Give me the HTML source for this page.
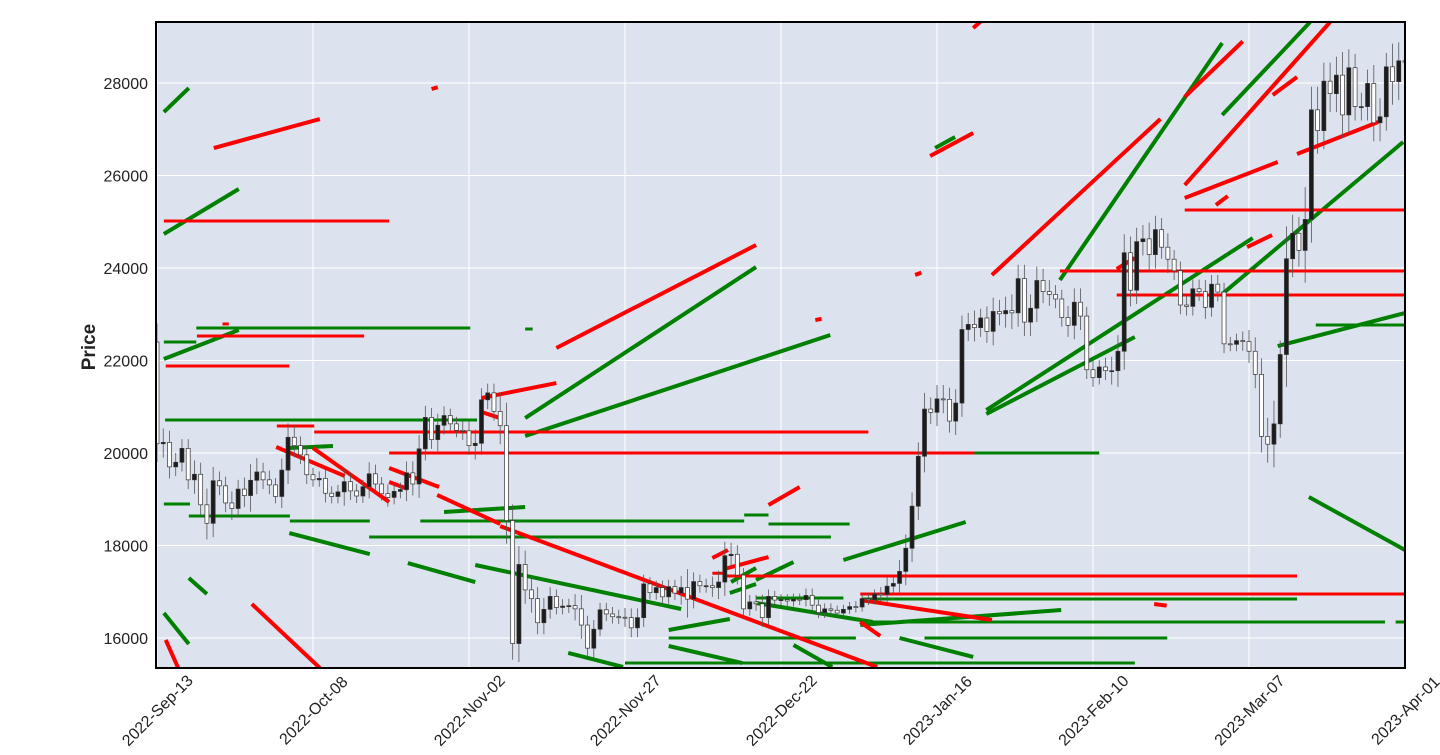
<!DOCTYPE html>
<html><head><meta charset="utf-8"><style>
body{margin:0;background:#fff;width:1440px;height:750px;overflow:hidden;font-family:"Liberation Sans",sans-serif}
</style></head><body>
<svg id="chart" width="1440" height="750" xmlns="http://www.w3.org/2000/svg">
<defs><clipPath id="clip"><rect x="156" y="22" width="1249" height="646"/></clipPath></defs>
<rect x="156" y="22" width="1249" height="646" fill="#dde3ee"/>
<g id="grid"></g>
<g id="lines" clip-path="url(#clip)"></g>
<g id="candles" clip-path="url(#clip)"></g>
<rect x="156" y="22" width="1249" height="646" fill="none" stroke="#000" stroke-width="2"/>
<g id="axes"></g>
<text x="95" y="347" transform="rotate(-90 95 347)" text-anchor="middle" font-size="19" font-weight="bold" fill="#222">Price</text>
</svg>
<script>
const closes=[20200,20230,19700,19800,20100,19420,19540,18880,18480,19400,19290,18920,18800,19220,19080,19410,19590,19420,
19310,19060,19630,20340,20160,19960,19530,19420,19450,19130,19060,19160,19380,19180,19070,19270,19550,19330,19120,19040,19170,19210,19570,19330,20090,20770,20290,20600,20810,20630,20490,
20480,20160,20210,21150,21300,20900,20590,18540,15880,17590,17040,16850,16330,16620,16900,16660,16690,16700,16630,16280,15780,16190,16610,16520,16460,16450,16440,16220,16440,17170,
16980,17090,16890,17110,16970,17090,16840,17220,17130,17130,17090,17210,17780,17810,17360,16630,16780,16740,16440,16900,16820,16830,16800,16840,16830,16920,16710,16550,16630,16600,16540,
16620,16680,16670,16850,16830,16950,16940,17120,17180,17440,17940,18850,19930,20950,20880,21170,21160,20690,21080,22670,22780,22710,22920,22630,23060,23010,23080,23030,23770,22830,23130,
23730,23490,23430,23330,22930,22760,23260,22960,21800,21630,21860,21780,21780,22200,24330,23520,24570,24630,24290,24830,24450,24190,23940,23200,23170,23550,23490,23150,
23650,23480,22360,22350,22430,22410,22200,21700,20360,20190,20630,22130,24200,24750,24380,25050,27420,26970,28040,27770,28170,27310,28330,27490,27490,27990,27140,27270,28350,28030,28480,28450];
const firstOpen=22400;
const wicks=[400,300,250,200,200,200,300,250,350,300,200,200,250,200,250,350,300,200,
200,150,250,300,250,200,200,150,150,200,150,150,300,200,150,150,250,200,150,200,150,150,250,250,300,250,200,250,200,150,150,
200,200,300,250,200,200,400,500,350,400,300,300,250,250,200,150,150,150,250,300,200,200,150,150,150,150,200,200,200,
200,150,150,150,150,150,250,400,200,150,150,200,250,300,250,200,150,150,150,200,150,120,120,120,120,120,150,150,120,120,120,
100,100,100,120,100,120,100,150,200,150,250,300,300,300,350,250,300,300,250,300,300,250,300,200,250,300,250,300,350,300,300,
300,300,250,250,200,200,250,300,300,200,200,150,200,300,350,400,350,300,300,350,300,250,300,200,200,200,200,200,
250,200,200,200,150,150,200,250,300,350,400,500,300,700,400,350,700,500,500,400,400,400,500,400,300,300,300,400,400,300,500,400];
// trend lines: [startDay, startPrice, endDay, endPrice]
const redLines=[[1.4,15957,3.4,15351],[1.1,25016,37.2,25016],[1.4,21880,21.2,21880],[6.4,22530,33.2,22530],[10.5,22790,11.5,22790],
[9.1,26594,26.1,27221],[44,27870,45,27910],[15.2,16735,26.1,15351],[19.2,20583,25.2,20583],[25.2,20454,114,20454],[37.2,20000,131,20000],
[19.1,20130,30.1,19502],[25,20108,37.2,18940],[37.2,19675,45.2,19265],[37.2,19373,40.2,19221],[44.9,19092,55,18465],[55,18420,115.4,15373],
[52,21189,64,21513],[64,22270,96,24497],[52,20886,55,20756],[89,17730,91.5,17903],[90.9,17492,98,17751],[89,17400,91,17400],[98,18875,103,19265],
[105.5,22875,106.5,22900],[91,17340,182.7,17340],[112.7,16951,200,16951],[133.8,23848,160.8,27221],[121.5,23850,122.5,23900],[164.7,25794,188,29318],
[178.8,27740,182.7,28129],[164.7,25513,179.6,26291],[169.7,25362,171.6,25556],[164.7,25254,200,25254],[144.7,23935,200,23935],[153.8,23416,200,23416],
[182.7,26464,195.7,27156],[174.7,24453,178.7,24713],[153.8,23978,156.7,24216],[123.9,26421,130.8,26918],[130.8,29189,132,29330],[164.7,27700,174,28900],
[112.7,16822,133.8,16389],[112.7,16346,115.9,16043],[159.8,16735,161.8,16700]];
const greenLines=[[1.1,27372,5.1,27891],[1.1,24735,13.1,25708],[1.1,22032,13.1,22659],[1.1,22400,6.3,22400],[6.3,22702,50.2,22702],[1.3,20713,51.3,20713],
[1.1,18897,5.3,18897],[5.1,18638,21.3,18638],[21.3,18530,34.1,18530],[21.2,18270,34.1,17816],[34,18184,108,18184],[42.2,18530,94.1,18530],[94.1,18660,98,18660],
[98,18465,111,18465],[46,18724,59,18832],[1.1,16540,5.1,15870],[5.1,17297,8,16951],[40.2,17621,51,17210],[51,17578,84,16627],[21.2,20108,28.2,20151],
[59,20756,96,24021],[59,20367,107.9,22551],[59,22681,60.2,22681],[91.8,16973,96,17167],[92,17210,96,17513],[96,17254,102,17643],[82,16173,91.8,16411],
[82,16000,112,16000],[82,15827,93.8,15459],[75,15460,156.7,15460],[65.9,15676,74.7,15373],[96,16865,110,16865],[113,16843,182.7,16843],[96,16757,114.7,16346],
[112.7,16281,144.9,16605],[102,15849,108.2,15373],[110,17686,129.6,18508],[132.9,20929,175.6,24648],[132.9,20843,156.7,22508],[144.7,23740,170.7,28864],
[170.7,27307,184.8,29318],[170.7,23437,199.7,26724],[179.6,22313,200,23027],[185.7,22767,200,22767],[184.6,19048,200,17903],[123,16000,161.9,16000],
[113,16346,196.8,16346],[198.5,16346,200,16346],[119,16000,130.8,15590],[131,20000,151,20000],[124.7,26594,127.9,26832]];
const yTicks=[16000,18000,20000,22000,24000,26000,28000];
const xTickLabels=["2022-Sep-13","2022-Oct-08","2022-Nov-02","2022-Nov-27","2022-Dec-22","2023-Jan-16","2023-Feb-10","2023-Mar-07","2023-Apr-01"];
const xTickDays=[0,25,50,75,100,125,150,175,200];

const NS="http://www.w3.org/2000/svg";
const X=d=>157+d*6.24;
const Y=p=>638-(p-16000)*0.04625;
function mk(tag,attrs,parent){const e=document.createElementNS(NS,tag);for(const k in attrs)e.setAttribute(k,attrs[k]);parent.appendChild(e);return e;}
const grid=document.getElementById('grid'),axes=document.getElementById('axes'),lg=document.getElementById('lines'),cg=document.getElementById('candles');
yTicks.forEach(v=>{
  const l=mk('line',{x1:156,x2:1405,y1:Y(v),y2:Y(v),stroke:'#fff','stroke-width':1},grid);
  
  
  const t=mk('text',{x:148,y:Y(v)+6,'text-anchor':'end','font-size':16,fill:'#222'},axes);
  t.textContent=v;
  
  
});
xTickDays.forEach((d,i)=>{
  const l=mk('line',{x1:X(d),x2:X(d),y1:22,y2:668,stroke:'#fff','stroke-width':1},grid);
  
  
  const tx=X(d),ty=716;
  const t=mk('text',{x:tx,y:ty,'text-anchor':'middle','font-size':16,fill:'#222',transform:`rotate(-45 ${tx} ${ty-6})`},axes);
  t.textContent=xTickLabels[i];
  
  
});
function drawLines(arr,col){
  arr.forEach(s=>{
    const horiz=s[1]===s[3];
    const l=mk('line',{x1:X(s[0]),y1:Y(s[1]),x2:X(s[2]),y2:Y(s[3]),stroke:col,'stroke-width':horiz?3:4},lg);
    
    
  });
}
drawLines(greenLines,'#008000');
drawLines(redLines,'#ff0000');
closes.forEach((c,i)=>{
  const o=i===0?firstOpen:closes[i-1];
  const x=X(i),hi=Math.max(o,c)+wicks[i],lo=Math.min(o,c)-wicks[i];
  const w=mk('line',{x1:x,x2:x,y1:Y(hi),y2:Y(lo),stroke:'#555','stroke-width':0.8},cg);
  
  
  const top=Y(Math.max(o,c)),h=Math.max(1,Y(Math.min(o,c))-top);
  const up=c>=o;
  const b=mk('rect',{x:x-2,y:top,width:4,height:h,fill:up?'#1c1c1c':'#fff',stroke:'#333','stroke-width':0.7},cg);
  
  
});
</script>
</body></html>
